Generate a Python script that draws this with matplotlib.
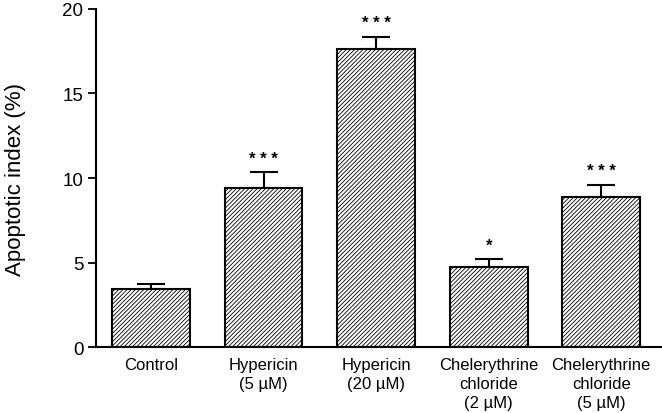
import matplotlib
matplotlib.use("Agg")
import matplotlib.pyplot as plt

plt.rcParams['font.family'] = ['Liberation Sans', 'DejaVu Sans']
plt.rcParams['hatch.linewidth'] = 0.6
plt.rcParams['hatch.color'] = '#333333'

categories = ["Control", "Hypericin\n(5 µM)", "Hypericin\n(20 µM)",
              "Chelerythrine\nchloride\n(2 µM)", "Chelerythrine\nchloride\n(5 µM)"]
values = [3.43, 9.43, 17.63, 4.72, 8.86]
errors = [0.32, 0.90, 0.73, 0.48, 0.73]
stars = ["", "* * *", "* * *", "*", "* * *"]
yticks = [0, 5, 10, 15, 20]

fig = plt.figure(figsize=(6.62, 4.14), dpi=100)
ax = fig.add_axes([0.145, 0.159, 0.855, 0.817])

x = list(range(len(categories)))
ax.bar(x, values, width=0.69, color="white", edgecolor="black", linewidth=1.5,
       hatch="////////", zorder=2)
ax.errorbar(x, values, yerr=[[0]*len(errors), errors], fmt="none", ecolor="black",
            elinewidth=1.5, capsize=10, capthick=1.5, zorder=1)
for xi, v, e, s in zip(x, values, errors, stars):
    if s:
        ax.text(xi, v + e + 0.4, s, ha="center", va="bottom", fontsize=12,
                fontweight="bold")

ax.set_xlim(-0.489, 4.54)
ax.set_ylim(0, 20)
ax.set_yticks(yticks)
ax.set_xticks(x)
ax.set_xticklabels(categories, fontsize=12, linespacing=1.35)
ax.tick_params(axis="x", length=0, pad=7)
ax.tick_params(axis="y", direction="out", length=6, width=1.3, labelsize=13.5, pad=3)
ax.set_ylabel("Apoptotic index (%)", fontsize=16, labelpad=26)
for side in ["top", "right"]:
    ax.spines[side].set_visible(False)
ax.spines["left"].set_linewidth(1.5)
ax.spines["bottom"].set_linewidth(1.5)

fig.savefig("out.png", dpi=100)
